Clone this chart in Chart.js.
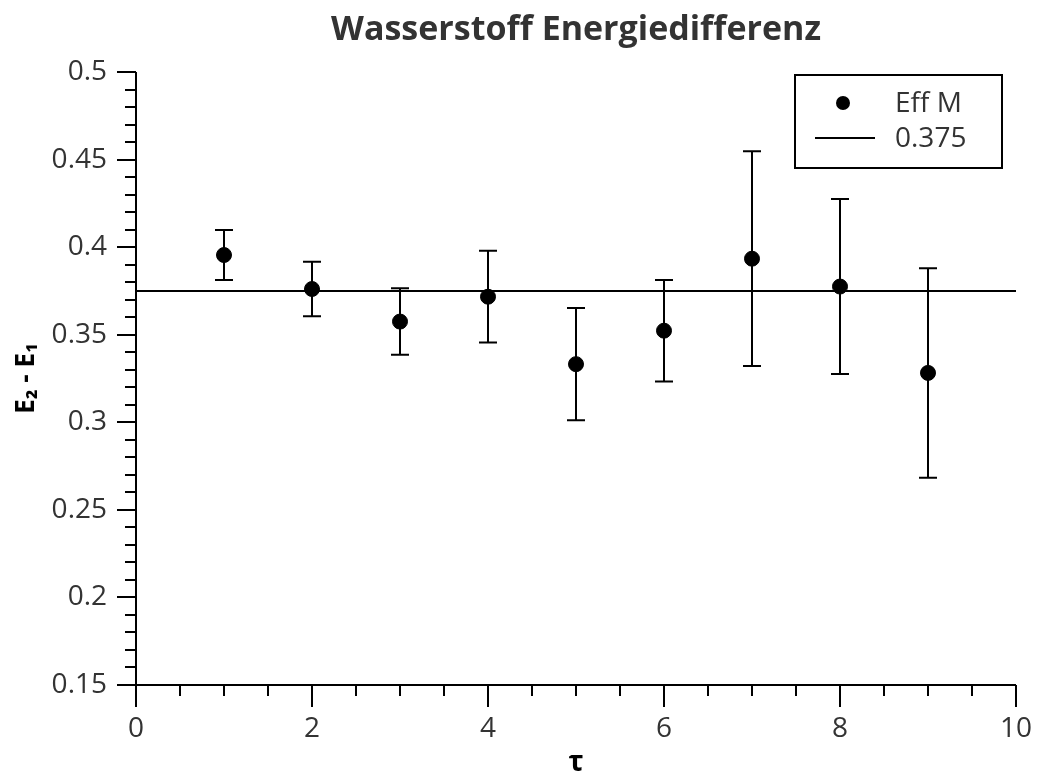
<!DOCTYPE html>
<html>
<head>
<meta charset="utf-8">
<script src="https://cdn.jsdelivr.net/npm/chart.js@4/dist/chart.umd.min.js"></script>
<style>
  html, body { margin: 0; padding: 0; background: #fff; }
  #wrap { width: 1037px; height: 780px; position: relative; }
</style>
</head>
<body>
<div id="wrap"><canvas id="c" width="1037" height="780"></canvas></div>
<script>
// ---- data ----
const tauValues = [1, 2, 3, 4, 5, 6, 7, 8, 9];
const effMValues = [0.3955, 0.3761, 0.3575, 0.3717, 0.3332, 0.3523, 0.3934, 0.3775, 0.3282];
const effMErrors = [0.0143, 0.0156, 0.0190, 0.0262, 0.0320, 0.0290, 0.0613, 0.0500, 0.0598];
const refValue = 0.375;
const refRange = [0, 10];
const yTicks = [0.15, 0.2, 0.25, 0.3, 0.35, 0.4, 0.45, 0.5];
const xTicks = [0, 2, 4, 6, 8, 10];

const TEXT = '#333';
const FONT = "'Open Sans', 'Noto Sans', sans-serif";

// error bars plugin
const errorBars = {
  id: 'errorBars',
  afterDatasetsDraw(chart) {
    const ctx = chart.ctx, xs = chart.scales.x, ys = chart.scales.y;
    ctx.save();
    ctx.strokeStyle = '#000';
    ctx.lineWidth = 2;
    tauValues.forEach((t, i) => {
      const px = xs.getPixelForValue(t);
      const top = ys.getPixelForValue(effMValues[i] + effMErrors[i]);
      const bot = ys.getPixelForValue(effMValues[i] - effMErrors[i]);
      ctx.beginPath();
      ctx.moveTo(px, top); ctx.lineTo(px, bot);
      ctx.moveTo(px - 9, top); ctx.lineTo(px + 9, top);
      ctx.moveTo(px - 9, bot); ctx.lineTo(px + 9, bot);
      ctx.stroke();
    });
    ctx.restore();
  }
};

// axis ticks (major + minor) plugin
const axisTicks = {
  id: 'axisTicks',
  afterDraw(chart) {
    const ctx = chart.ctx, xs = chart.scales.x, ys = chart.scales.y;
    const a = chart.chartArea;
    ctx.save();
    ctx.strokeStyle = '#000';
    ctx.lineWidth = 2;
    ctx.beginPath();
    ctx.moveTo(a.left, a.top); ctx.lineTo(a.left, a.bottom);
    ctx.moveTo(a.left, a.bottom); ctx.lineTo(a.right, a.bottom);
    for (let k = 0; k <= 35; k++) {
      const v = 0.15 + k * 0.01;
      const py = Math.round(ys.getPixelForValue(v));
      const len = (k % 5 === 0) ? 19 : 11;
      ctx.moveTo(a.left - len, py); ctx.lineTo(a.left, py);
    }
    for (let k = 0; k <= 20; k++) {
      const v = k * 0.5;
      const px = Math.round(xs.getPixelForValue(v));
      const len = (k % 4 === 0) ? 22 : 11;
      ctx.moveTo(px, a.bottom); ctx.lineTo(px, a.bottom + len);
    }
    ctx.stroke();
    ctx.restore();
  }
};

// boxed legend plugin
const boxLegend = {
  id: 'boxLegend',
  afterDraw(chart) {
    const ctx = chart.ctx, a = chart.chartArea;
    const w = 207, h = 93;
    const bx = a.right - 14 - w, by = a.top + 3;
    ctx.save();
    ctx.fillStyle = '#fff';
    ctx.fillRect(bx, by, w, h);
    ctx.strokeStyle = '#000';
    ctx.lineWidth = 2;
    ctx.strokeRect(bx, by, w, h);
    const ds = chart.data.datasets;
    ctx.fillStyle = '#000';
    ctx.beginPath();
    ctx.arc(bx + 48, by + 28, 7, 0, Math.PI * 2);
    ctx.fill();
    ctx.beginPath();
    ctx.moveTo(bx + 20, by + 63); ctx.lineTo(bx + 80, by + 63);
    ctx.stroke();
    ctx.fillStyle = TEXT;
    ctx.font = "28px " + FONT;
    ctx.textBaseline = 'middle';
    ctx.textAlign = 'left';
    ctx.fillText(ds[0].label, bx + 100, by + 29);
    ctx.fillText(ds[1].label, bx + 100, by + 64);
    ctx.restore();
  }
};

new Chart(document.getElementById('c'), {
  type: 'scatter',
  data: {
    datasets: [
      {
        label: 'Eff M',
        data: tauValues.map((t, i) => ({ x: t, y: effMValues[i] })),
        backgroundColor: '#000',
        borderColor: '#000',
        pointRadius: 7.5,
        pointHoverRadius: 7.5,
        showLine: false
      },
      {
        label: String(refValue),
        data: refRange.map(x => ({ x: x, y: refValue })),
        borderColor: '#000',
        borderWidth: 2,
        pointRadius: 0,
        showLine: true,
        fill: false
      }
    ]
  },
  options: {
    responsive: false,
    animation: false,
    events: [],
    layout: { padding: { left: 0, right: 21, top: 0, bottom: 0 } },
    plugins: {
      legend: { display: false },
      tooltip: { enabled: false },
      title: {
        display: true,
        fullSize: false,
        text: 'Wasserstoff Energiedifferenz',
        color: TEXT,
        font: { family: FONT, size: 34, weight: 'bold', lineHeight: 1.2 },
        padding: { top: 10, bottom: 21.2 }
      }
    },
    scales: {
      x: {
        type: 'linear',
        min: 0, max: 10,
        afterBuildTicks: s => { s.ticks = xTicks.map(v => ({ value: v })); },
        afterFit: s => { s.height = 95; s.paddingLeft = 0; s.paddingRight = 0; },
        grid: { display: false, drawTicks: false },
        border: { display: false },
        ticks: {
          color: TEXT, padding: 27, maxRotation: 0, autoSkip: false,
          font: { family: FONT, size: 28 },
          callback: v => String(v)
        },
        title: {
          display: true, text: 'τ', color: '#000',
          font: { family: FONT, size: 28, weight: 'bold' },
          padding: { top: 0, bottom: 0 }
        }
      },
      y: {
        type: 'linear',
        min: 0.15, max: 0.5,
        afterBuildTicks: s => { s.ticks = yTicks.map(v => ({ value: v })); },
        afterFit: s => { s.width = 136; s.paddingTop = 0; s.paddingBottom = 0; },
        grid: { display: false, drawTicks: false },
        border: { display: false },
        ticks: {
          color: TEXT, padding: 29, autoSkip: false,
          font: { family: FONT, size: 28 },
          callback: v => String(+v.toFixed(2))
        },
        title: {
          display: true, text: 'E₂ - E₁', color: '#000',
          font: { family: FONT, size: 26, weight: 'bold' },
          padding: { top: 11, bottom: 0 }
        }
      }
    }
  },
  plugins: [errorBars, axisTicks, boxLegend]
});
</script>
</body>
</html>
